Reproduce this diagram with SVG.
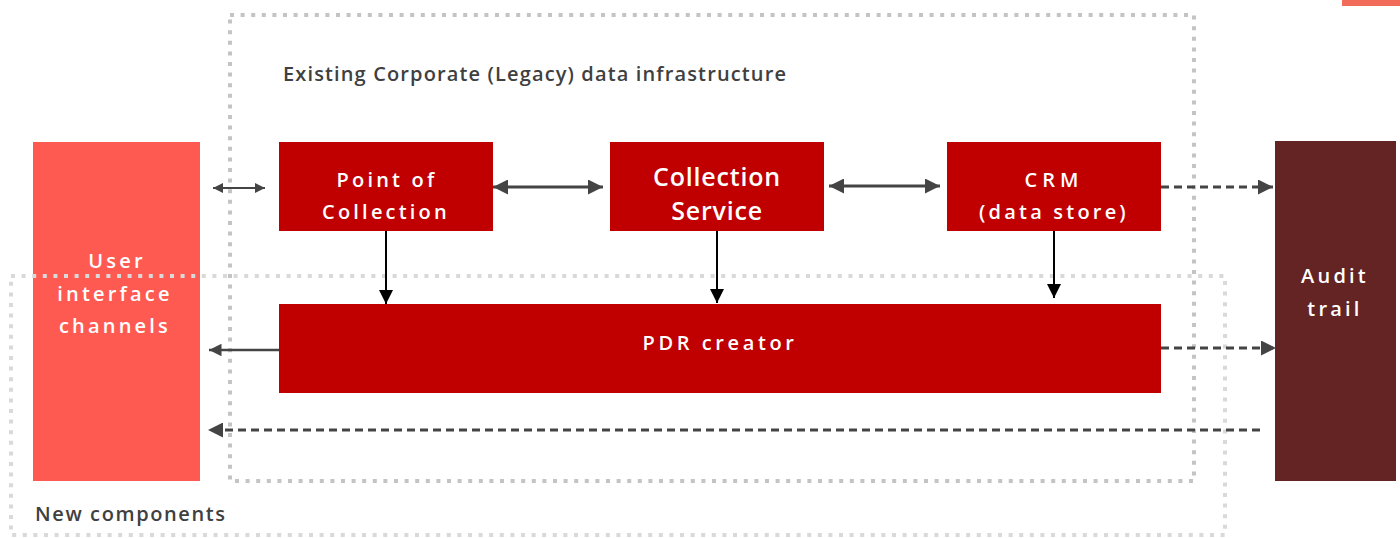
<svg xmlns="http://www.w3.org/2000/svg" width="1400" height="538" viewBox="0 0 1400 538">
<style>
.frame{fill:none;stroke-width:4;stroke-dasharray:4 6.6}
.lbl{font-family:"Open Sans","Liberation Sans",sans-serif;font-weight:600;fill:#404040;font-size:20px}
.w{font-family:"Open Sans","Liberation Sans",sans-serif;font-weight:600;fill:#fff;text-anchor:middle;font-size:20px;letter-spacing:3.2px}
.c{fill:none;stroke:#444;stroke-width:3}
.d{fill:none;stroke:#444;stroke-width:3;stroke-dasharray:8 5}
.k{fill:none;stroke:#000;stroke-width:2}
</style>
<defs>
<marker id="ah" viewBox="0 0 10 10" refX="10" refY="5" markerWidth="5" markerHeight="5" orient="auto-start-reverse" markerUnits="strokeWidth"><path d="M0,0 L10,5 L0,10 z" fill="#444"/></marker>
<marker id="ak" viewBox="0 0 10 10" refX="10" refY="5" markerWidth="7" markerHeight="7" orient="auto" markerUnits="strokeWidth"><path d="M0,0 L10,5 L0,10 z" fill="#000"/></marker>
</defs>
<rect x="1342" y="0" width="58" height="6" fill="#f26c5a"/>
<g id="ui"><rect x="33" y="142" width="167" height="339" fill="#ff5a52"/>
<text class="w" x="117" y="268">User</text><text class="w" x="115" y="301">interface</text><text class="w" x="115" y="333">channels</text></g>
<g id="legacy"><rect class="frame" x="230" y="15" width="964" height="466" stroke="#c4c4c4"/>
<text class="lbl" x="283" y="81" textLength="503">Existing Corporate (Legacy) data infrastructure</text></g>
<g id="newcomp"><rect class="frame" x="11" y="276" width="1214" height="259" stroke="#d9d9d9"/>
<text class="lbl" x="35" y="521" textLength="190">New components</text></g>
<g id="poc"><rect x="279" y="142" width="214" height="89" fill="#c00000"/>
<text class="w" x="387" y="187">Point of</text><text class="w" x="386" y="219">Collection</text></g>
<g id="cs"><rect x="610" y="142" width="214" height="89" fill="#c00000"/>
<text class="w" x="717" y="186" style="font-size:25px;letter-spacing:0.8px">Collection</text><text class="w" x="717" y="220" style="font-size:25px;letter-spacing:0.8px">Service</text></g>
<g id="crm"><rect x="947" y="142" width="214" height="89" fill="#c00000"/>
<text class="w" x="1054" y="187" style="letter-spacing:5px">CRM</text><text class="w" x="1054" y="219">(data store)</text></g>
<g id="pdr"><rect x="279" y="304" width="882" height="89" fill="#c00000"/>
<text class="w" x="720" y="350" style="letter-spacing:3.6px">PDR creator</text></g>
<g id="audit"><rect x="1275" y="141" width="121" height="340" fill="#632423"/>
<text class="w" x="1335" y="283">Audit</text><text class="w" x="1335" y="316">trail</text></g>
<g id="connectors">
<line class="c" x1="213" y1="188" x2="265" y2="188" style="stroke-width:2" marker-start="url(#ah)" marker-end="url(#ah)"/>
<line class="c" x1="493" y1="187" x2="603" y2="187" marker-start="url(#ah)" marker-end="url(#ah)"/>
<line class="c" x1="829" y1="186" x2="940" y2="186" marker-start="url(#ah)" marker-end="url(#ah)"/>
<line class="d" x1="1161" y1="187" x2="1273" y2="187" marker-end="url(#ah)"/>
<line class="k" x1="386" y1="231" x2="386" y2="304" marker-end="url(#ak)"/>
<line class="k" x1="717" y1="231" x2="717" y2="303" marker-end="url(#ak)"/>
<line class="k" x1="1054" y1="231" x2="1054" y2="298" marker-end="url(#ak)"/>
<line class="c" x1="279" y1="350" x2="209" y2="350" style="stroke-width:2.5" marker-end="url(#ah)"/>
<line class="d" x1="1161" y1="348" x2="1276" y2="348" marker-end="url(#ah)"/>
<line class="d" x1="1260" y1="430" x2="208" y2="430" marker-end="url(#ah)"/>
</g>
</svg>
